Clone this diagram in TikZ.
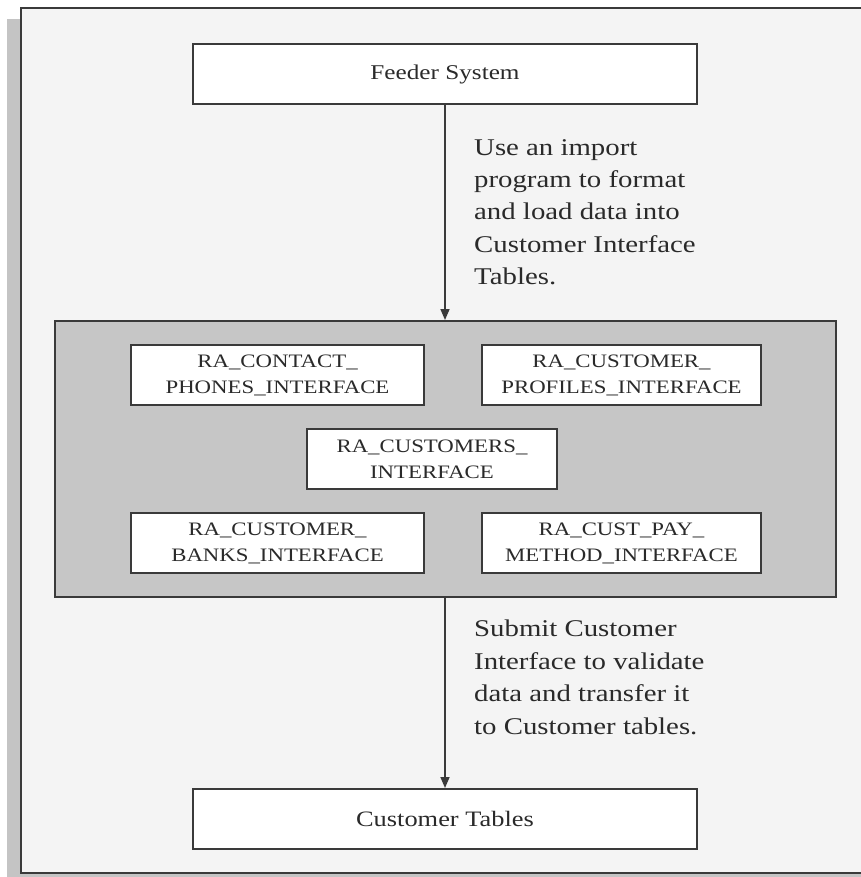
\documentclass[tikz,border=0pt]{standalone}
\usepackage{fontspec}
\setmainfont{Liberation Serif}[FakeStretch=1.2]
\usetikzlibrary{arrows.meta}
\definecolor{bgc}{HTML}{F4F4F4}
\definecolor{shadowc}{HTML}{C4C4C4}
\definecolor{panelc}{HTML}{C6C6C6}
\definecolor{linec}{HTML}{3A3A3A}
\definecolor{textc}{HTML}{2A2A2A}
\tikzset{
  x=1pt, y=-1pt,
  bigbox/.style={draw=linec, line width=2pt, fill=white, minimum width=504pt, minimum height=60pt,
    inner sep=0pt, text=textc, font=\fontsize{22}{28}\selectfont},
  tblbox/.style={draw=linec, line width=2pt, fill=white, minimum height=60pt,
    inner sep=0pt, align=center, text=textc, font=\fontsize{19}{26}\selectfont},
  note/.style={align=left, anchor=north west, inner sep=0pt, text=textc,
    font=\fontsize{24}{32.4}\selectfont},
  flow/.style={draw=linec, line width=1.6pt, -{Triangle[length=11pt,width=9pt]}}
}
\begin{document}
\begin{tikzpicture}
\useasboundingbox (0,0) rectangle (860,877);
% shadow and frame
\fill[shadowc] (7,19) rectangle (880,890);
\draw[draw=linec, line width=2pt, fill=bgc] (21,8) rectangle (880,873);
% panel
\node[draw=linec, line width=2pt, fill=panelc, minimum width=781pt, minimum height=276pt, inner sep=0pt]
  (panel) at (445.5,459) {};
% boxes
\node[bigbox, font=\fontsize{21}{28}\selectfont] (feeder) at (445,74) {Feeder System};
\node[bigbox] (tables) at (445,819) {Customer Tables};
\node[tblbox, minimum width=293pt] (contact) at (277.5,375) {RA\_CONTACT\_\\PHONES\_INTERFACE};
\node[tblbox, minimum width=279pt] (profiles) at (621.5,375) {RA\_CUSTOMER\_\\PROFILES\_INTERFACE};
\node[tblbox, minimum width=250pt] (customers) at (432,459) {RA\_CUSTOMERS\_\\INTERFACE};
\node[tblbox, minimum width=293pt] (banks) at (277.5,543) {RA\_CUSTOMER\_\\BANKS\_INTERFACE};
\node[tblbox, minimum width=279pt] (paymethod) at (621.5,543) {RA\_CUST\_PAY\_\\METHOD\_INTERFACE};
% arrows
\draw[flow] (feeder.south) -- (panel.north -| feeder.south);
\draw[flow] (panel.south -| tables.north) -- (tables.north);
% notes
\node[note] (note1) at (474,139) {Use an import\\program to format\\and load data into\\Customer Interface\\Tables.};
\node[note] (note2) at (474,620) {Submit Customer\\Interface to validate\\data and transfer it\\to Customer tables.};
\end{tikzpicture}
\end{document}
